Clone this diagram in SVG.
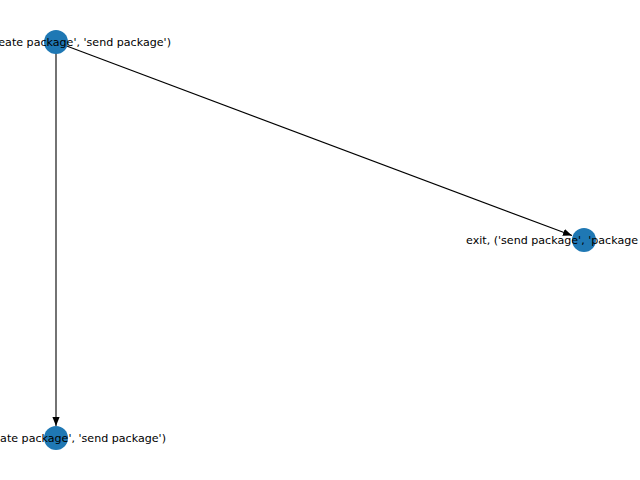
<svg xmlns="http://www.w3.org/2000/svg" width="640" height="480" viewBox="0 0 640 480">
<style>
.edge{stroke:#000;stroke-width:1.1;fill:none}
.node{fill:#1f78b4}
.lbl{font-family:"DejaVu Sans",sans-serif;font-size:11.1px;fill:#000}
</style>
<defs>
<marker id="arr" markerUnits="userSpaceOnUse" markerWidth="10" markerHeight="8" refX="9" refY="4" orient="auto">
<path d="M0,0.4 L9,4 L0,7.6 Z" fill="#000"/>
</marker>
</defs>
<rect width="640" height="480" fill="#fff"/>
<g id="edges">
<line class="edge" x1="56" y1="42" x2="572" y2="235.6" marker-end="url(#arr)"/>
<line class="edge" x1="56" y1="42" x2="56" y2="426" marker-end="url(#arr)"/>
</g>
<g id="node-top">
<circle class="node" cx="56" cy="42" r="12"/>
<text class="lbl" x="171" y="45.5" text-anchor="end">eate package', 'send package')</text>
</g>
<g id="node-right">
<circle class="node" cx="584" cy="240" r="12"/>
<text class="lbl" x="466" y="243.5">exit, ('send package', 'package</text>
</g>
<g id="node-bottom">
<circle class="node" cx="56" cy="438" r="12"/>
<text class="lbl" x="166" y="441.5" text-anchor="end">ate package', 'send package')</text>
</g>
</svg>
